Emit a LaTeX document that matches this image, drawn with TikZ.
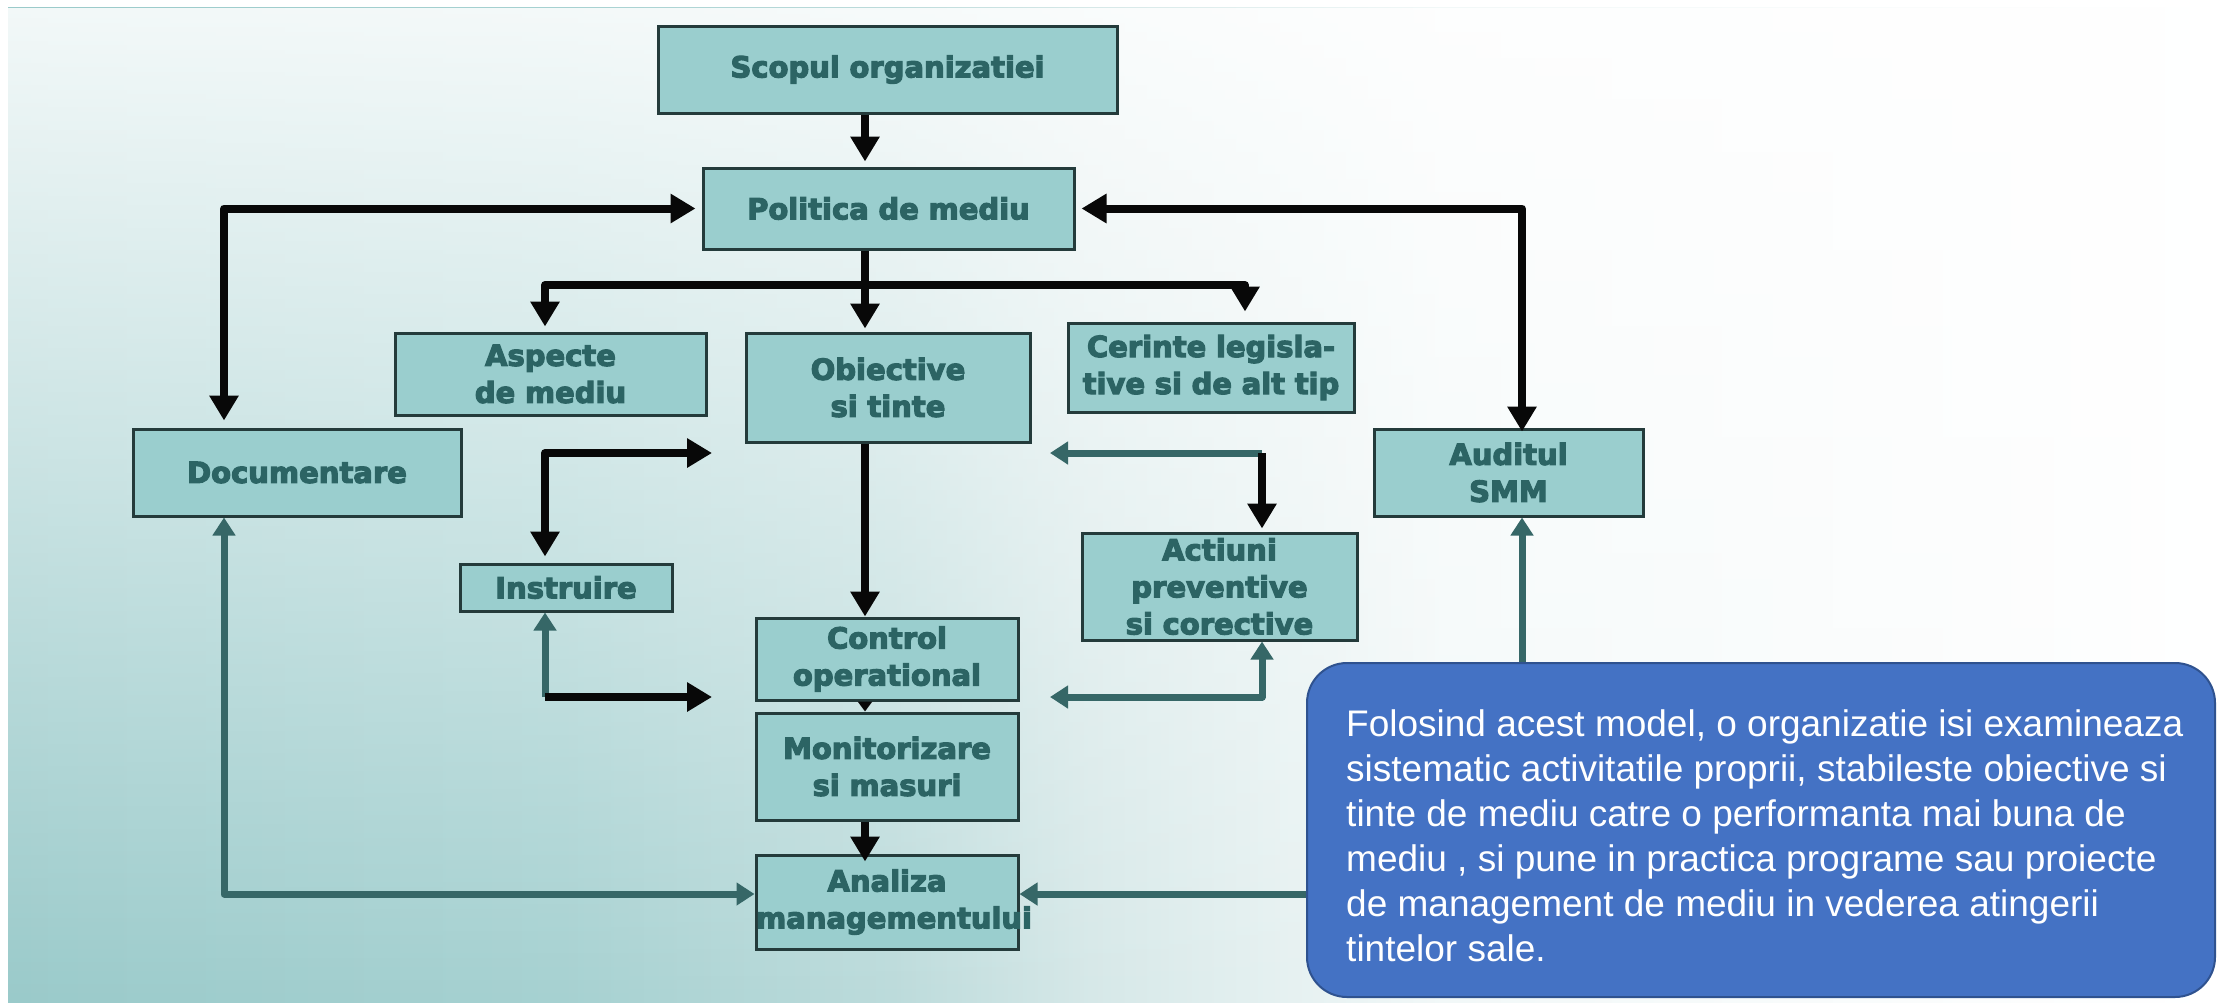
\documentclass[tikz,border=0pt]{standalone}
\usepackage{fontspec}
\usetikzlibrary{arrows.meta,fadings}
\newfontfamily\boxfont{DejaVu Sans}[BoldFeatures={FakeBold=4}]
\newfontfamily\notefont{Liberation Sans}
\definecolor{boxfill}{HTML}{9ACECE}
\definecolor{boxline}{HTML}{243B3B}
\definecolor{boxtext}{HTML}{2C6464}
\definecolor{tealline}{HTML}{366767}
\definecolor{blkline}{HTML}{080808}
\definecolor{notefill}{HTML}{4472C4}
\definecolor{noteline}{HTML}{2F528F}
\definecolor{bgA}{HTML}{9ACACA}
\definecolor{bgB}{HTML}{A6D1D1}
\definecolor{bgC}{HTML}{BCDBDB}
\definecolor{bgD}{HTML}{D6E8E8}
\definecolor{bgE}{HTML}{F2F8F8}
\pgfdeclarehorizontalshading{bgshade}{100bp}{color(0bp)=(bgA); color(25bp)=(bgA); color(37.5bp)=(bgB); color(45bp)=(bgC); color(49.5bp)=(bgD); color(57.5bp)=(bgE); color(75bp)=(white); color(100bp)=(white)}
\tikzfading[name=topfade, top color=transparent!12, bottom color=transparent!100]
\tikzset{
  flowbox/.style={draw=boxline, line width=3pt, fill=boxfill, inner sep=0pt, align=center,
    font=\boxfont\bfseries\fontsize{29}{37}\selectfont, text=boxtext},
  blackconn/.style={draw=blkline, line width=8pt, line join=round, >={Triangle[length=25pt,width=28pt]}},
  tealconn/.style={draw=tealline, line width=7pt, line join=round, >={Triangle[length=18pt,width=22pt]}},
  notebox/.style={draw=noteline, line width=2pt, fill=notefill, rounded corners=40pt, inner sep=0pt},
  notetext/.style={font=\notefont\fontsize{37}{45}\selectfont, text=white, align=left, inner sep=0pt}
}
\begin{document}
\begin{tikzpicture}[x=1pt,y=-1pt]
\useasboundingbox (0,0) rectangle (2219,1002);
% background
\fill[white] (0,0) rectangle (2219,1002);
\shade[shading=bgshade] (8,7) rectangle (2219,1002);
\fill[white, path fading=topfade] (8,7) rectangle (2219,1002);

% guide coordinates
\coordinate (cx) at (865,0);
\coordinate (lx) at (224,0);
\coordinate (ix) at (545,0);
\coordinate (ax) at (1262,0);
\coordinate (kx) at (1245,0);
\coordinate (ux) at (1522,0);
\coordinate (r2) at (0,285);
\coordinate (r3) at (0,453);
\coordinate (r4) at (0,697);
\coordinate (r5) at (0,894);
\coordinate (p1) at (712,453);
\coordinate (p2) at (712,697);
\coordinate (p3) at (1050,453);
\coordinate (p4) at (1050,697);

% boxes
\node[flowbox, text width=459pt, minimum height=87pt] (scopul) at (887.5,69.5) {Scopul organizatiei};
\node[flowbox, text width=371pt, minimum height=81pt] (politica) at (888.5,208.5) {Politica de mediu};
\node[flowbox, text width=311pt, minimum height=82pt] (aspecte) at (550.5,374) {Aspecte\\de mediu};
\node[flowbox, text width=284pt, minimum height=109pt] (obiective) at (888,387.5) {Obiective\\si tinte};
\node[flowbox, text width=286pt, minimum height=89pt] (cerinte) at (1211,367.5) {Cerinte legisla-\\tive si de alt tip};
\node[flowbox, text width=328pt, minimum height=87pt] (documentare) at (297,472.5) {Documentare};
\node[flowbox, text width=269pt, minimum height=87pt] (auditul) at (1508.5,472.5) {Auditul\\SMM};
\node[flowbox, text width=212pt, minimum height=47pt] (instruire) at (566,587.5) {Instruire};
\node[flowbox, text width=275pt, minimum height=107pt] (actiuni) at (1219.5,586.5) {Actiuni\\preventive\\si corective};
\node[flowbox, text width=262pt, minimum height=82pt] (control) at (887,659) {Control\\operational};
\node[flowbox, text width=262pt, minimum height=107pt] (monitor) at (887,766.5) {Monitorizare\\si masuri};
\node[flowbox, text width=262pt, minimum height=94pt] (analiza) at (887,902) {Analiza\\\mbox{managementului}};

% black connectors
\draw[blackconn, ->, shorten >=5pt] (scopul.south -| cx) -- (politica.north -| cx);
\draw[blackconn, <->, shorten <=6pt, shorten >=7pt] (politica.west) -- (politica.west -| lx) -- (documentare.north -| lx);
\draw[blackconn, <->, shorten <=6pt, shorten >=-4pt] (politica.east) -- (politica.east -| ux) -- (auditul.north -| ux);
\draw[blackconn, ->, shorten >=3pt] (politica.south -| cx) -- (obiective.north -| cx);
\draw[blackconn, <->, shorten <=5pt, shorten >=10pt] (aspecte.north -| ix) -- (r2 -| ix) -- (r2 -| kx) -- (cerinte.north -| kx);
\draw[blackconn, ->] (obiective.south -| cx) -- (control.north -| cx);
\draw[blackconn, <->, shorten >=6pt] (p1) -- (r3 -| ix) -- (instruire.north -| ix);
% lower left loop
\draw[tealconn, ->] (r4 -| ix) -- (instruire.south -| ix);
\draw[blackconn, ->] (r4 -| ix) -- (p2);
% upper right loop
\draw[tealconn, ->] (r3 -| ax) -- (p3);
\draw[blackconn, ->, shorten >=3pt] (r3 -| ax) -- (actiuni.north -| ax);
% lower right loop
\draw[tealconn, <->] (actiuni.south -| ax) -- (r4 -| ax) -- (p4);
% central chain
\draw[draw=blkline, line width=4pt, -{Triangle[length=10pt,width=14pt]}] (control.south -| cx) -- (monitor.north -| cx);
\draw[blackconn, ->, shorten >=-8pt] (monitor.south -| cx) -- (analiza.north -| cx);
% teal feedback
\draw[tealconn, <->] (documentare.south -| lx) -- (r5 -| lx) -- (analiza.west |- r5);
\draw[tealconn, <->] (auditul.south -| ux) -- (r5 -| ux) -- (analiza.east |- r5);

% note
\node[notebox, minimum width=908pt, minimum height=334pt] (note) at (1761,830) {};
\node[notetext, anchor=north west] (notetxt) at (1346,709) {Folosind acest model, o organizatie isi examineaza\\sistematic activitatile proprii, stabileste obiective si\\tinte de mediu catre o performanta mai buna de\\mediu , si pune in practica programe sau proiecte\\de management de mediu in vederea atingerii\\tintelor sale.};
\end{tikzpicture}
\end{document}
